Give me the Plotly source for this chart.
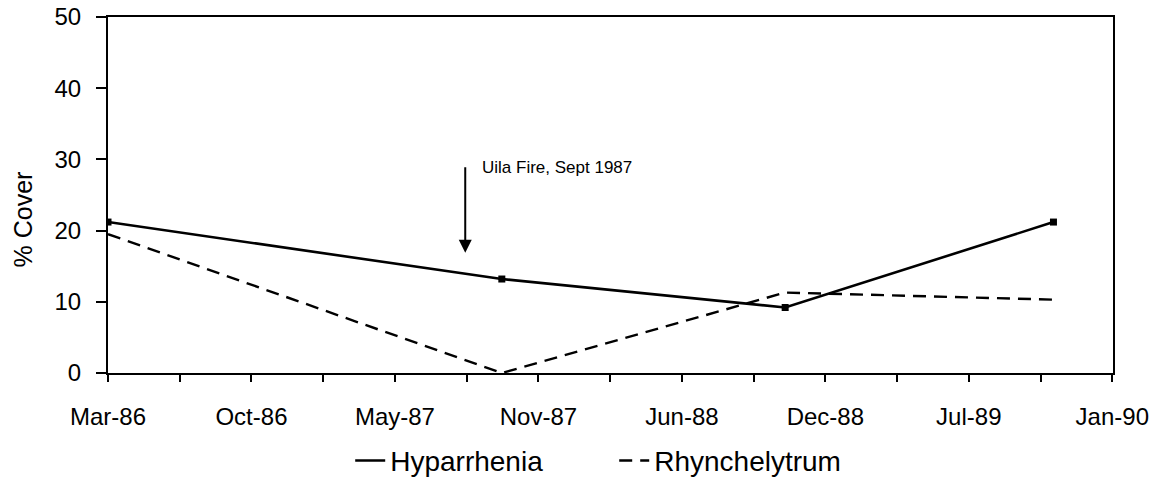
import plotly.graph_objects as go

# survey dates and % cover
dates = ['1986-03-28', '1987-09-28', '1988-10-27', '1989-11-05']
hyparrhenia = [21.2, 13.2, 9.2, 21.2]
rhynchelytrum = [19.5, 0.0, 11.3, 10.3]

y_ticks = [0, 10, 20, 30, 40, 50]
fire_date = '1987-08-08'
fire_label = 'Uila Fire, Sept 1987'

FONT = 'Liberation Sans, Arial, sans-serif'
DAY_MS = 86400000
AXIS_START = '1986-03-28'

fig = go.Figure()

fig.add_trace(go.Scatter(
    x=dates, y=hyparrhenia, name='Hyparrhenia', mode='lines',
    line=dict(color='black', width=2.6)
))
fig.add_trace(go.Scatter(
    x=dates, y=rhynchelytrum, name='Rhynchelytrum', mode='lines',
    line=dict(color='black', width=2.4, dash='13px,8px')
))
# point markers (kept out of the legend)
fig.add_trace(go.Scatter(
    x=dates, y=hyparrhenia, mode='markers', showlegend=False,
    marker=dict(symbol='square', size=7, color='black')
))

# fire arrow
fig.add_annotation(
    x=fire_date, y=16.9, ax=fire_date, ay=29.1,
    xref='x', yref='y', axref='x', ayref='y',
    showarrow=True, arrowhead=2, arrowsize=1.3, arrowwidth=2, arrowcolor='black',
    text=''
)
fig.add_annotation(
    x=fire_date, y=28.8, xref='x', yref='y', xshift=15,
    text=fire_label, showarrow=False, xanchor='left', yanchor='middle',
    font=dict(family=FONT, size=17, color='black')
)

# y-axis title
fig.add_annotation(
    x=-0.085, y=0.43, xref='paper', yref='paper', xanchor='center', yanchor='middle',
    text='% Cover', textangle=-90, showarrow=False,
    font=dict(family=FONT, size=25, color='black')
)

fig.update_xaxes(
    type='date', range=[AXIS_START, '1990-01-27'],
    tick0=AXIS_START, dtick=200 * DAY_MS, tickformat='%b-%y',
    ticks='outside', ticklen=7, tickwidth=2, tickcolor='black',
    minor=dict(tick0=AXIS_START, dtick=100 * DAY_MS, ticks='outside',
               ticklen=7, tickwidth=2, tickcolor='black'),
    showline=True, linecolor='black', linewidth=2, mirror=True,
    showgrid=False, zeroline=False, ticklabelstandoff=14,
    tickfont=dict(family=FONT, size=24, color='black')
)
fig.update_yaxes(
    range=[0, 50], tickvals=y_ticks,
    ticks='outside', ticklen=10, tickwidth=2, tickcolor='black',
    showline=True, linecolor='black', linewidth=2, mirror=True,
    showgrid=False, zeroline=False, ticklabelstandoff=10,
    tickfont=dict(family=FONT, size=24, color='black')
)

fig.update_layout(
    width=1155, height=487,
    margin=dict(l=108, r=42, t=17, b=114, autoexpand=False),
    plot_bgcolor='white', paper_bgcolor='white',
    font=dict(family=FONT, color='black'),
    legend=dict(
        orientation='h', x=0.241, xanchor='left', y=-0.317, yanchor='bottom',
        font=dict(family=FONT, size=28, color='black'),
        itemwidth=30, entrywidth=219, entrywidthmode='pixels'
    )
)

# drop the default page margin so the figure sits at the window origin
fig.write_html('out.html', config={'displayModeBar': False},
               post_script="document.body.style.margin = '0';")
